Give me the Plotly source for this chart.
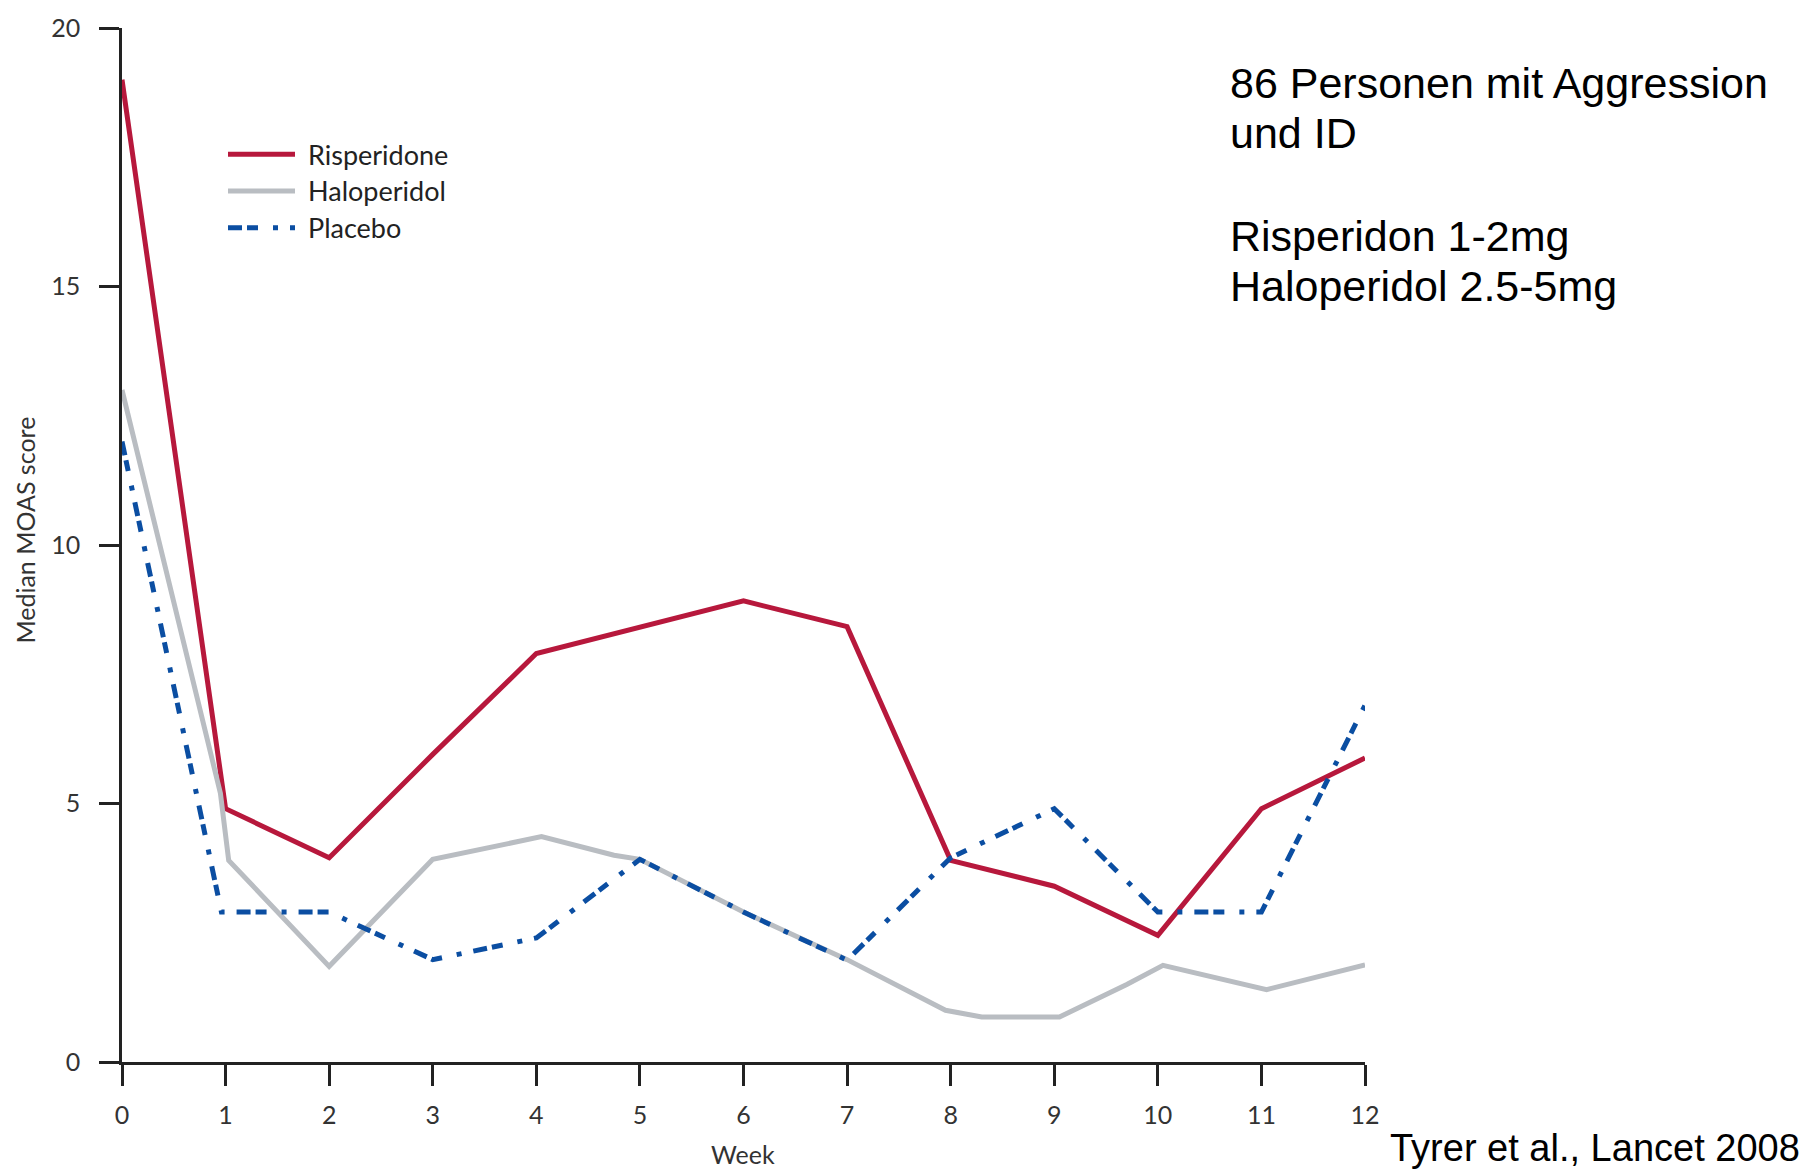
import plotly.graph_objects as go

# --- data ---
weeks = list(range(13))
risperidone = [19.0, 4.9, 3.95, 5.95, 7.9, 8.42, 8.92, 8.42, 3.9, 3.4, 2.45, 4.9, 5.88]

halo_weeks = [0, 0.95, 1.03, 2, 3, 3.75, 4.05, 4.75, 5, 6, 7, 7.95, 8.3, 9.05, 9.7, 10.05, 11.05, 12]
haloperidol = [13.0, 5.2, 3.9, 1.85, 3.92, 4.25, 4.36, 4.0, 3.92, 2.9, 1.98, 1.0, 0.87, 0.87, 1.5, 1.87, 1.4, 1.88]

placebo_weeks = [0, 0.96, 2, 3, 4, 5, 6, 7, 8, 9, 10, 11, 12]
placebo = [12.0, 2.9, 2.9, 1.98, 2.4, 3.92, 2.9, 1.97, 3.95, 4.9, 2.9, 2.9, 6.9]

series_names = ["Risperidone", "Haloperidol", "Placebo"]
x_ticks = list(range(13))
y_ticks = [0, 5, 10, 15, 20]
x_title = "Week"
y_title = "Median MOAS score"
notes = ["86 Personen mit Aggression", "und ID", "Risperidon 1-2mg", "Haloperidol 2.5-5mg"]
source = "Tyrer et al., Lancet 2008"

RED = "#B7183C"
GRAY = "#B9BDC2"
BLUE = "#0B4EA2"
AXIS = "#222222"
TICKFONT = "Lato"
DASH = "14px,5px,11px,15px,5px,12px"
LW = 5

W, H = 1815, 1173
L, R, T, B = 122, W - 1365, 21, H - 1062
PW, PH = W - L - R, H - T - B

def px(xp):
    return (xp - L) / PW

def py(yp):
    return (H - B - yp) / PH

fig = go.Figure()
fig.add_trace(go.Scatter(x=weeks, y=risperidone, mode="lines", name=series_names[0],
                         line=dict(color=RED, width=LW), cliponaxis=False))
fig.add_trace(go.Scatter(x=halo_weeks, y=haloperidol, mode="lines", name=series_names[1],
                         line=dict(color=GRAY, width=LW), cliponaxis=False))
fig.add_trace(go.Scatter(x=placebo_weeks, y=placebo, mode="lines", name=series_names[2],
                         line=dict(color=BLUE, width=LW, dash=DASH), cliponaxis=False))

fig.update_layout(
    width=W, height=H,
    margin=dict(l=L, r=R, t=T, b=B, pad=0),
    paper_bgcolor="white", plot_bgcolor="white",
    showlegend=False,
    xaxis=dict(range=[0, 12], tickvals=x_ticks, showgrid=False, zeroline=False,
               showline=True, linecolor=AXIS, linewidth=2.5, ticks="outside",
               ticklen=21, tickwidth=2.5, tickcolor=AXIS, ticklabeloverflow="allow",
               tickfont=dict(family=TICKFONT, size=25, color="#333333"), ticklabelstandoff=8),
    yaxis=dict(range=[0, 20], tickvals=y_ticks, showgrid=False, zeroline=False,
               showline=True, linecolor=AXIS, linewidth=2.5, ticks="outside",
               ticklen=20, tickwidth=2.5, tickcolor=AXIS, ticklabeloverflow="allow",
               tickfont=dict(family=TICKFONT, size=25, color="#333333"), ticklabelstandoff=14),
)

# axis titles
fig.add_annotation(x=px(25), y=py(527), xref="paper", yref="paper", text=y_title,
                   textangle=-90, showarrow=False, xanchor="center", yanchor="middle",
                   font=dict(family=TICKFONT, size=25, color="#333333"))
fig.add_annotation(x=px(743), y=py(1155), xref="paper", yref="paper", text=x_title,
                   showarrow=False, xanchor="center", yanchor="middle",
                   font=dict(family=TICKFONT, size=25, color="#333333"))

# manual legend
legend_rows = [148, 185, 222]
styles = [dict(color=RED, width=LW), dict(color=GRAY, width=LW),
          dict(color=BLUE, width=LW, dash=DASH)]
for name, yy, st in zip(series_names, legend_rows, styles):
    fig.add_shape(type="line", xref="paper", yref="paper", x0=px(228), x1=px(295),
                  y0=py(yy), y1=py(yy), line=st)
    fig.add_annotation(x=px(306), y=py(yy), xref="paper", yref="paper", text=name,
                       showarrow=False, xanchor="left", yanchor="middle",
                       font=dict(family=TICKFONT, size=27, color="#222222"))

# right-hand notes
note_y = [76, 127, 230, 281]
for t, yy in zip(notes, note_y):
    fig.add_annotation(x=px(1228), y=py(yy), xref="paper", yref="paper", text=t,
                       showarrow=False, xanchor="left", yanchor="middle",
                       font=dict(family="Liberation Sans", size=43, color="#000000"))

fig.add_annotation(x=px(1388), y=py(1172), xref="paper", yref="paper", text=source,
                   showarrow=False, xanchor="left", yanchor="bottom",
                   font=dict(family="Liberation Sans", size=38, color="#000000"))

fig.write_html("out.html", post_script="document.body.style.margin='0';",
               config={"displayModeBar": False})
